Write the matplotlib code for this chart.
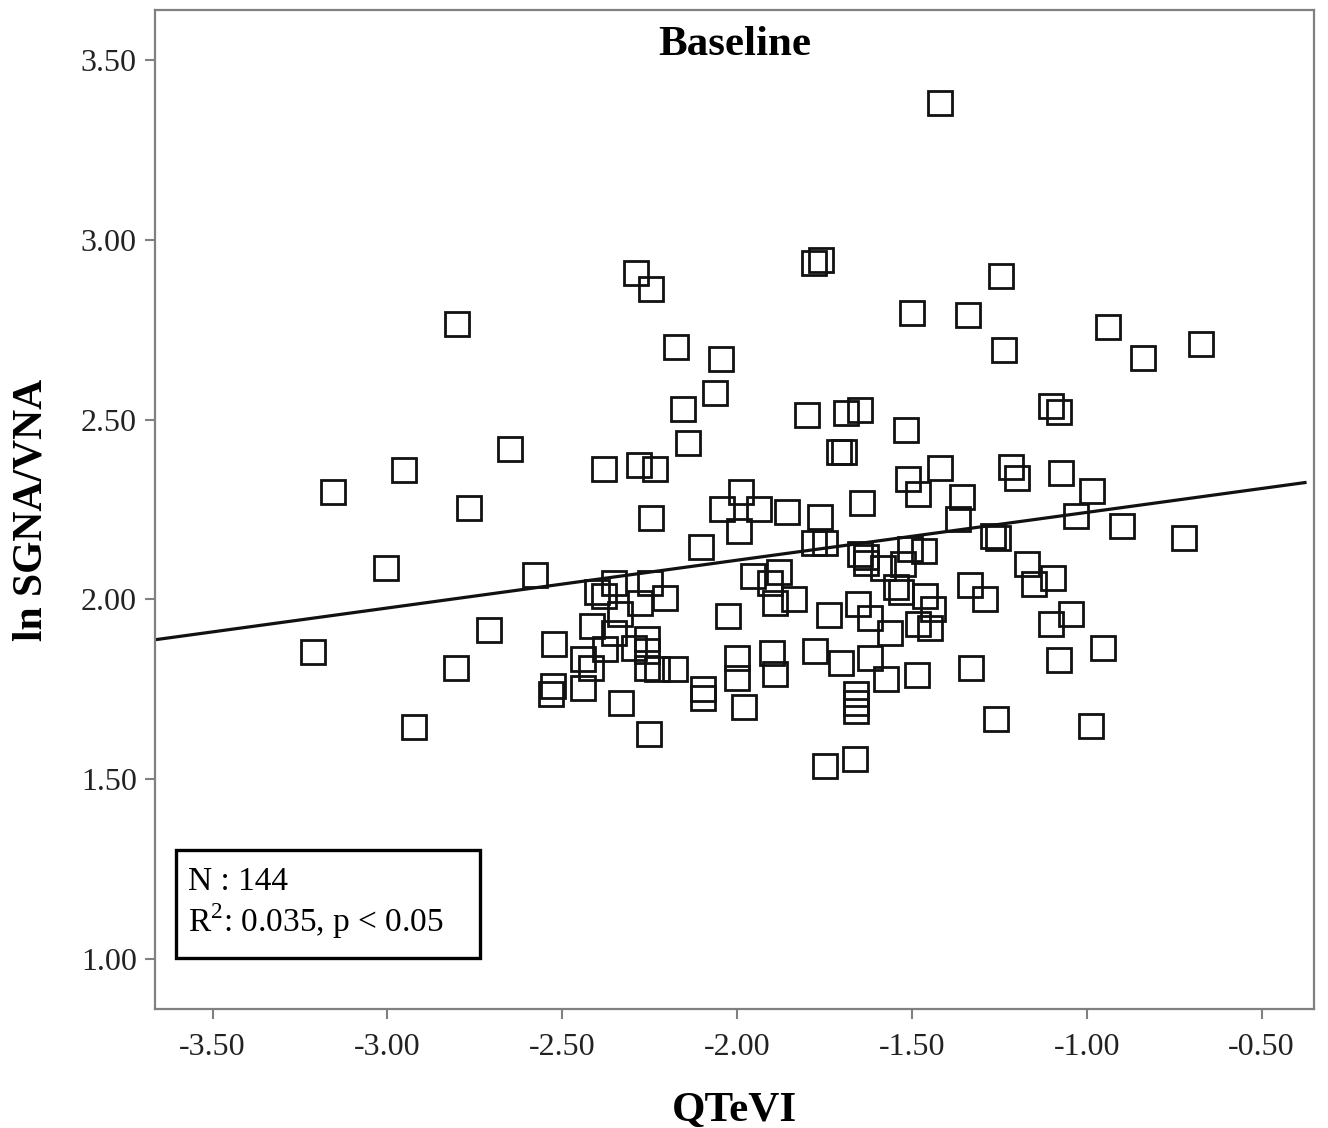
"""
Baseline scatter: ln SGNA/VNA vs QTeVI with linear fit.
"""

import matplotlib
matplotlib.use("Agg")
import matplotlib.pyplot as plt
from matplotlib.patches import Rectangle
import numpy as np

plt.rcParams["font.family"] = ["Liberation Serif", "DejaVu Serif"]
plt.rcParams["mathtext.fontset"] = "custom"
plt.rcParams["mathtext.rm"] = "Liberation Serif"

# data
qtevi = [
    -1.420, -1.779, -1.759, -2.290, -2.247, -1.244, -2.802, -1.500, -1.339, -0.940,
    -1.236, -2.175, -2.046, -0.839, -0.672, -2.063, -2.155, -1.101, -1.080, -1.799,
    -1.690, -1.649, -2.649, -2.141, -1.517, -1.710, -1.695, -2.382, -2.282, -2.236,
    -2.954, -1.420, -1.218, -1.201, -1.075, -3.155, -2.767, -1.989, -1.511, -1.483,
    -1.356, -0.986, -2.247, -2.043, -1.937, -1.856, -1.764, -1.368, -1.644, -1.032,
    -0.899, -0.721, -1.994, -2.103, -1.779, -1.750, -1.267, -1.253, -1.506, -1.466,
    -1.649, -1.632, -1.526, -1.583, -3.003, -2.578, -1.954, -1.879, -1.905, -1.170,
    -1.152, -1.098, -2.351, -2.250, -2.382, -1.546, -1.532, -1.836, -2.207, -2.279,
    -1.463, -1.290, -1.333, -1.891, -1.655, -1.440, -2.336, -2.026, -1.736, -1.621,
    -1.046, -1.483, -1.448, -1.101, -2.414, -2.351, -2.710, -1.563, -2.523, -2.259,
    -2.379, -2.296, -3.213, -1.899, -1.776, -0.954, -2.000, -2.440, -1.704, -1.621,
    -1.080, -2.805, -2.417, -2.259, -2.230, -2.178, -1.330, -1.891, -1.486, -2.000,
    -1.575, -2.526, -2.440, -2.098, -2.098, -2.532, -1.661, -1.661, -1.661, -2.333,
    -1.980, -1.261, -2.925, -0.989, -2.253, -1.750, -1.664, -2.402, -1.632, -2.259,
]
ln_sgna_vna = [
    3.381, 2.936, 2.945, 2.908, 2.864, 2.900, 2.766, 2.797, 2.791, 2.758,
    2.694, 2.702, 2.669, 2.671, 2.711, 2.574, 2.530, 2.538, 2.522, 2.513,
    2.519, 2.527, 2.418, 2.435, 2.471, 2.410, 2.410, 2.363, 2.374, 2.363,
    2.360, 2.366, 2.369, 2.338, 2.352, 2.299, 2.254, 2.299, 2.335, 2.294,
    2.285, 2.302, 2.227, 2.252, 2.252, 2.243, 2.229, 2.224, 2.269, 2.232,
    2.204, 2.171, 2.190, 2.146, 2.157, 2.157, 2.176, 2.171, 2.141, 2.135,
    2.126, 2.101, 2.098, 2.087, 2.087, 2.068, 2.065, 2.076, 2.045, 2.098,
    2.043, 2.059, 2.045, 2.045, 2.009, 2.034, 2.020, 2.000, 2.003, 1.989,
    2.009, 2.001, 2.040, 1.989, 1.987, 1.973, 1.959, 1.953, 1.956, 1.948,
    1.959, 1.932, 1.921, 1.932, 1.926, 1.906, 1.915, 1.906, 1.876, 1.890,
    1.862, 1.865, 1.854, 1.851, 1.856, 1.865, 1.837, 1.834, 1.823, 1.837,
    1.832, 1.809, 1.809, 1.809, 1.806, 1.806, 1.809, 1.792, 1.789, 1.781,
    1.778, 1.759, 1.754, 1.751, 1.726, 1.736, 1.737, 1.712, 1.690, 1.712,
    1.701, 1.666, 1.645, 1.648, 1.625, 1.536, 1.556, 2.020, 2.118, 1.856,
]

# fitted line as drawn
fit_intercept = 2.375
fit_slope = 0.133
fit_x = [-3.665, -0.376]

xticks = [-3.5, -3.0, -2.5, -2.0, -1.5, -1.0, -0.5]
yticks = [1.0, 1.5, 2.0, 2.5, 3.0, 3.5]

fig = plt.figure(figsize=(13.28, 11.28), dpi=100)
ax = fig.add_axes([0.1167, 0.1055, 0.8728, 0.8856])

ax.plot(qtevi, ln_sgna_vna, linestyle="none", marker="s", markersize=17,
        markerfacecolor="none", markeredgecolor="#111111", markeredgewidth=2.0)

fx = np.array(fit_x)
ax.plot(fx, fit_intercept + fit_slope * fx, color="#111111", linewidth=2.3)

ax.set_xlim(-3.665, -0.35)
ax.set_ylim(0.86, 3.64)
ax.set_xticks(xticks)
ax.set_yticks(yticks)
ax.set_xticklabels([f"{v:.2f}" for v in xticks])
ax.set_yticklabels([f"{v:.2f}" for v in yticks])
ax.tick_params(axis="x", pad=10)
ax.tick_params(axis="y", pad=6)
ax.tick_params(axis="both", direction="out", length=7, width=1.5, color="#808080",
               labelsize=23, labelcolor="#222222")
for s in ax.spines.values():
    s.set_color("#808080")
    s.set_linewidth(1.6)

ax.set_xlabel("QTeVI", fontsize=31, fontweight="bold", labelpad=22)
ax.set_ylabel("ln SGNA/VNA", fontsize=30, fontweight="bold", labelpad=22)

ax.text(0.5, 0.965, "Baseline", transform=ax.transAxes, ha="center", va="center",
        fontsize=31, fontweight="bold")

# stats box
ax.add_patch(Rectangle((0.0181, 0.051), 0.262, 0.108, transform=ax.transAxes,
                       fill=False, edgecolor="black", linewidth=2.4))
ax.text(0.0285, 0.127, "N : 144", transform=ax.transAxes, ha="left", va="center",
        fontsize=24)
ax.text(0.0285, 0.088, "R$^{2}$: 0.035, p < 0.05", transform=ax.transAxes,
        ha="left", va="center", fontsize=24)

fig.savefig("out.png", dpi=100)
